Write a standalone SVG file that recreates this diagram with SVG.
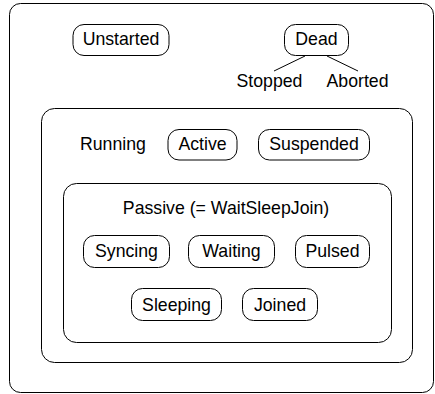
<svg xmlns="http://www.w3.org/2000/svg" width="435" height="394" viewBox="0 0 435 394">
<style>
.box{fill:#fff;stroke:#000;stroke-width:1}
.st{fill:#fff;stroke:#000;stroke-width:1}
text{font-family:"Liberation Sans",Arial,sans-serif;font-size:17.7px;fill:#000}
.c{text-anchor:middle}
.conn{stroke:#000;stroke-width:1;fill:none}
</style>
<g id="outer"><rect class="box" x="9.5" y="3.5" width="424" height="389" rx="11"/></g>
<g id="unstarted"><rect class="st" x="73" y="24.5" width="96" height="31" rx="11"/><text class="c" x="121" y="45">Unstarted</text></g>
<g id="dead"><rect class="st" x="284.5" y="24.5" width="64" height="31" rx="11"/><text class="c" x="316.5" y="45">Dead</text></g>
<g id="stopped"><text class="c" x="269.5" y="87">Stopped</text></g>
<g id="aborted"><text class="c" x="357.5" y="87">Aborted</text></g>
<g id="running"><rect class="box" x="41.5" y="108.5" width="371" height="254" rx="13"/><text x="80" y="150">Running</text></g>
<g id="active"><rect class="st" x="168" y="129.5" width="69" height="30.5" rx="11"/><text class="c" x="202.5" y="150">Active</text></g>
<g id="suspended"><rect class="st" x="258.5" y="129.5" width="111" height="30.5" rx="11"/><text class="c" x="314" y="150">Suspended</text></g>
<g id="passive"><rect class="box" x="63.5" y="183.5" width="328" height="159" rx="13"/><text class="c" x="226" y="214">Passive (= WaitSleepJoin)</text></g>
<g id="syncing"><rect class="st" x="83.5" y="235.5" width="86" height="32" rx="11"/><text class="c" x="126.5" y="257">Syncing</text></g>
<g id="waiting"><rect class="st" x="188.5" y="235.5" width="86" height="32" rx="11"/><text class="c" x="231.5" y="257">Waiting</text></g>
<g id="pulsed"><rect class="st" x="295.5" y="235.5" width="74" height="32" rx="11"/><text class="c" x="332.5" y="257">Pulsed</text></g>
<g id="sleeping"><rect class="st" x="131.5" y="288.5" width="90" height="32" rx="11"/><text class="c" x="176.5" y="310.5">Sleeping</text></g>
<g id="joined"><rect class="st" x="242.5" y="288.5" width="75" height="32" rx="11"/><text class="c" x="280" y="310.5">Joined</text></g>
<g id="connectors">
<line class="conn" x1="305" y1="56" x2="274" y2="71"/>
<line class="conn" x1="327" y1="56" x2="358" y2="71"/>
</g>
</svg>
